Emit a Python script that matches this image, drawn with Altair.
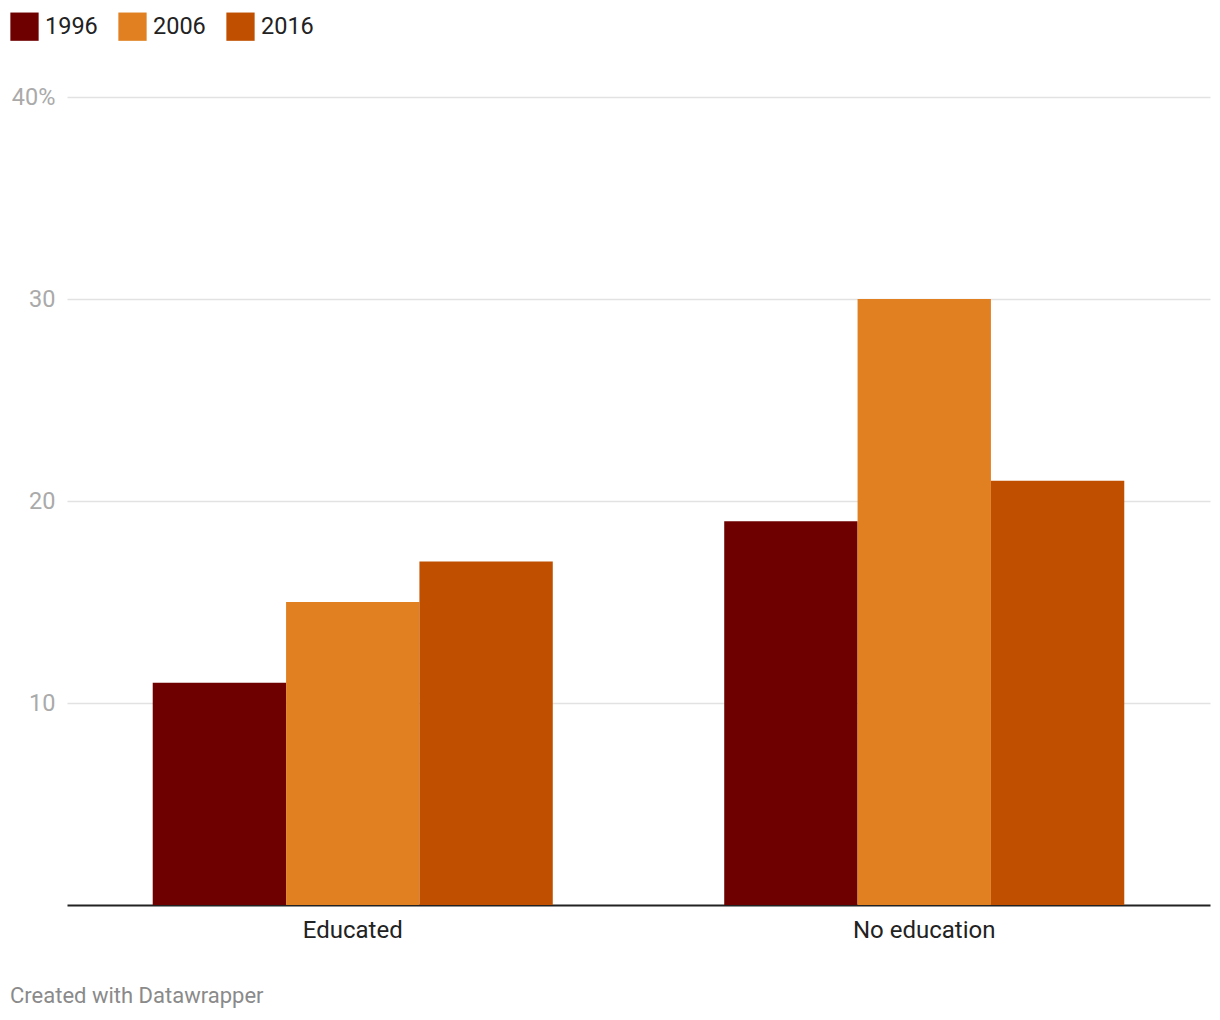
import altair as alt
import pandas as pd

categories = ["Educated", "No education"]
years = ["1996", "2006", "2016"]
values_1996 = [11, 19]
values_2006 = [15, 30]
values_2016 = [17, 21]
colors = ["#6e0000", "#e08020", "#c05000"]

rows = []
for i, c in enumerate(categories):
    for y, vals in zip(years, [values_1996, values_2006, values_2016]):
        rows.append({"category": c, "year": y, "value": vals[i]})
df = pd.DataFrame(rows)

FONT = "Roboto"

bars = alt.Chart(df).mark_bar().encode(
    x=alt.X("category:N", sort=categories,
            scale=alt.Scale(paddingInner=0.3, paddingOuter=0.15),
            axis=alt.Axis(title=None, labelAngle=0, ticks=False, domainColor="#222222",
                          domainWidth=2, labelFontSize=24, labelColor="#222222",
                          labelFont=FONT, labelPadding=13, grid=False)),
    xOffset=alt.XOffset("year:N", sort=years, scale=alt.Scale(paddingInner=0, paddingOuter=0)),
    y=alt.Y("value:Q", scale=alt.Scale(domain=[0, 40], nice=False),
            axis=alt.Axis(title=None, values=[10, 20, 30, 40], ticks=False, domain=False,
                          gridColor="#e2e2e2", gridWidth=1.5, labelFontSize=23.5,
                          labelColor="#aaaaaa", labelFont=FONT, labelPadding=12,
                          labelExpr="datum.value == 40 ? '40%' : datum.label")),
    color=alt.Color("year:N", sort=years,
                    scale=alt.Scale(domain=years, range=colors),
                    legend=alt.Legend(title=None, orient="none", legendX=-57, legendY=-85,
                                      direction="horizontal", symbolType="square",
                                      symbolSize=800, symbolStrokeWidth=0,
                                      symbolOpacity=1, labelFontSize=23.5,
                                      labelFont=FONT, labelColor="#222222",
                                      labelOffset=6, columnPadding=20)),
)

footer_df = pd.DataFrame({"t": ["Created with Datawrapper"]})
footer = alt.Chart(footer_df).mark_text(
    align="left", baseline="middle", font=FONT, fontSize=22, color="#8a8a8a"
).encode(text="t:N", x=alt.value(-57), y=alt.value(899))

chart = alt.layer(bars, footer).properties(
    width=1143, height=808,
    autosize=alt.AutoSizeParams(type="none"),
    padding={"left": 59, "top": 89, "right": 2, "bottom": 105},
).configure_view(stroke=None)

chart.save("out.html", embed_options={"renderer": "svg", "actions": False})
